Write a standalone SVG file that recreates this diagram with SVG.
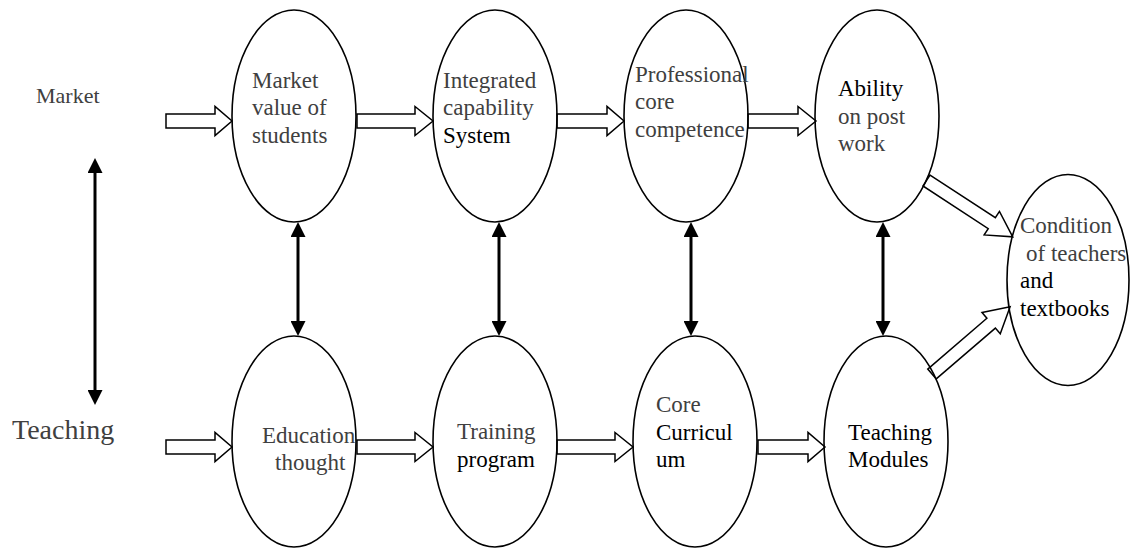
<svg xmlns="http://www.w3.org/2000/svg" width="1130" height="548" viewBox="0 0 1130 548">
<style>
.el{fill:none;stroke:#000;stroke-width:1.6}
.blk{fill:#fff;stroke:#000;stroke-width:1.5;stroke-linejoin:miter}
.dbl{stroke:#000;stroke-width:3;fill:none}
text{font-family:"Liberation Serif","Times New Roman",serif;font-size:23px;fill:#404040}
.k{fill:#000}
.lbl{font-size:22px}
.big{font-size:28px}
</style>
<defs>
<marker id="ah" viewBox="0 0 15 15" markerWidth="15" markerHeight="15" refX="5" refY="7.5" orient="auto-start-reverse" markerUnits="userSpaceOnUse">
<path d="M0,0 L15,7.5 L0,15 z" fill="#000"/>
</marker>
</defs>
<rect width="1130" height="548" fill="#fff"/>
<g id="connectors">
<line class="dbl" x1="95" y1="168" x2="95" y2="395" marker-start="url(#ah)" marker-end="url(#ah)"/>
<line class="dbl" x1="298" y1="232" x2="298" y2="326" marker-start="url(#ah)" marker-end="url(#ah)"/>
<line class="dbl" x1="499" y1="232" x2="499" y2="326" marker-start="url(#ah)" marker-end="url(#ah)"/>
<line class="dbl" x1="691" y1="232" x2="691" y2="326" marker-start="url(#ah)" marker-end="url(#ah)"/>
<line class="dbl" x1="883" y1="232" x2="883" y2="326" marker-start="url(#ah)" marker-end="url(#ah)"/>
<polygon class="blk" points="166,114 215,114 215,106.5 232,121 215,135.5 215,128 166,128"/>
<polygon class="blk" points="357,114 415,114 415,106.5 433,121 415,135.5 415,128 357,128"/>
<polygon class="blk" points="557,114 607,114 607,106.5 624,121 607,135.5 607,128 557,128"/>
<polygon class="blk" points="748,114 798,114 798,106.5 816,121 798,135.5 798,128 748,128"/>
<polygon class="blk" points="166,440 215,440 215,432.5 232,447 215,461.5 215,454 166,454"/>
<polygon class="blk" points="357,440 415,440 415,432.5 433,447 415,461.5 415,454 357,454"/>
<polygon class="blk" points="557,440 615,440 615,432.5 633,447 615,461.5 615,454 557,454"/>
<polygon class="blk" points="758,440 808,440 808,432.5 825,447 808,461.5 808,454 758,454"/>
<polygon class="blk" transform="translate(926.5,180.5) rotate(33.15)" points="0,-6.5 78,-6.5 78,-14 103,0 78,14 78,6.5 0,6.5"/>
<polygon class="blk" transform="translate(932,374) rotate(-40.7)" points="0,-6.5 78,-6.5 78,-14 103,0 78,14 78,6.5 0,6.5"/>
</g>
<g id="label-market"><text class="lbl" x="36" y="103">Market</text></g>
<g id="label-teaching"><text class="big" x="12" y="439">Teaching</text></g>
<g id="n-market-value">
<ellipse class="el" cx="294" cy="116" rx="62" ry="106"/>
<text x="252" y="88">Market</text><text x="252" y="115">value of</text><text x="252" y="143">students</text>
</g>
<g id="n-integrated">
<ellipse class="el" cx="495" cy="116" rx="62" ry="106"/>
<text x="443" y="88">Integrated</text><text x="443" y="115">capability</text><text class="k" x="443" y="143">System</text>
</g>
<g id="n-professional">
<ellipse class="el" cx="686" cy="116" rx="62" ry="106"/>
<text x="635" y="82">Professional</text><text x="635" y="109">core</text><text x="635" y="137">competence</text>
</g>
<g id="n-ability">
<ellipse class="el" cx="877" cy="116" rx="62" ry="106"/>
<text class="k" x="838" y="96">Ability</text><text x="838" y="124">on post</text><text x="838" y="151">work</text>
</g>
<g id="n-education">
<ellipse class="el" cx="294" cy="441.5" rx="62" ry="105.5"/>
<text x="262" y="443">Education</text><text x="275" y="470">thought</text>
</g>
<g id="n-training">
<ellipse class="el" cx="495" cy="441.5" rx="62" ry="105.5"/>
<text x="457" y="439">Training</text><text class="k" x="457" y="467">program</text>
</g>
<g id="n-core">
<ellipse class="el" cx="695" cy="441.5" rx="62" ry="105.5"/>
<text x="656" y="412">Core</text><text class="k" x="656" y="440">Curricul</text><text class="k" x="656" y="467">um</text>
</g>
<g id="n-modules">
<ellipse class="el" cx="886" cy="441.5" rx="62" ry="105.5"/>
<text class="k" x="848" y="440">Teaching</text><text class="k" x="848" y="467">Modules</text>
</g>
<g id="n-condition">
<ellipse class="el" cx="1068" cy="280" rx="61" ry="105.5"/>
<text x="1020" y="233">Condition</text><text x="1026" y="261">of teachers</text><text class="k" x="1020" y="288">and</text><text class="k" x="1020" y="316">textbooks</text>
</g>
</svg>
